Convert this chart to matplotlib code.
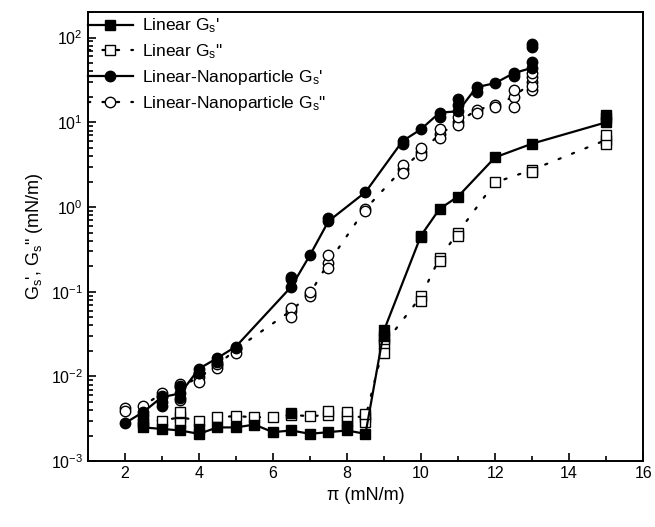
import numpy as np
import matplotlib
matplotlib.use("Agg")
import matplotlib.pyplot as plt
from matplotlib.ticker import MultipleLocator, LogLocator, NullFormatter

plt.rcParams["font.family"] = ["Liberation Sans", "DejaVu Sans"]
plt.rcParams["mathtext.default"] = "regular"

# ---- Linear G' (filled squares, solid) ----
lin_gp_x = [2.5, 3, 3.5, 4, 4.5, 5, 5.5, 6, 6.5, 7, 7.5, 8, 8.5, 9, 10, 10.5, 11, 12, 13, 15]
lin_gp_y = [0.0025, 0.0024, 0.0023, 0.0021, 0.0025, 0.0025, 0.0027, 0.0022, 0.0023, 0.0021,
            0.0022, 0.0023, 0.0021, 0.035, 0.46, 0.95, 1.33, 3.86, 5.6, 10.0]
lin_gp_rep_x = [2.5, 4, 6.5, 8, 9, 10, 15, 15]
lin_gp_rep_y = [0.0028, 0.0024, 0.0037, 0.0026, 0.030, 0.44, 12.3, 11.2]

# ---- Linear G'' (open squares, dotted) ----
lin_gpp_x = [2.5, 3, 3.5, 4, 4.5, 5, 5.5, 6, 6.5, 7, 7.5, 8, 8.5, 9, 10, 10.5, 11, 12, 13, 15]
lin_gpp_y = [0.0030, 0.0030, 0.0033, 0.0030, 0.0033, 0.0034, 0.0033, 0.0033, 0.0035, 0.0034,
             0.0035, 0.0034, 0.0033, 0.024, 0.088, 0.25, 0.50, 1.95, 2.75, 6.2]
lin_gpp_rep_x = [3.5, 3.5, 7.5, 8, 8, 8.5, 8.5, 9, 9, 10, 10.5, 11, 13, 15, 15]
lin_gpp_rep_y = [0.0038, 0.0028, 0.0039, 0.0038, 0.0030, 0.0029, 0.0036, 0.019, 0.028,
                 0.078, 0.23, 0.46, 2.6, 5.6, 7.0]

# ---- Linear-Nanoparticle G' (filled circles, solid) ----
np_gp_x = [2, 2.5, 3, 3.5, 4, 4.5, 5, 6.5, 7, 7.5, 8.5, 9.5, 10, 10.5, 11, 11.5, 12, 12.5, 13]
np_gp_y = [0.0028, 0.0038, 0.0057, 0.0063, 0.0123, 0.0165, 0.0225, 0.115, 0.27, 0.68,
           1.5, 6.0, 8.3, 13.0, 13.5, 26.0, 29.0, 38.0, 44.0]
np_gp_rep_x = [2.5, 3, 3, 3.5, 3.5, 4, 4.5, 6.5, 6.5, 7.5, 9.5, 10.5, 11, 11, 11.5, 12.5, 13, 13, 13]
np_gp_rep_y = [0.0035, 0.0045, 0.0050, 0.0078, 0.0055, 0.011, 0.015, 0.15, 0.14, 0.75,
               5.5, 11.5, 16.0, 19.0, 23.0, 35.0, 52.0, 83.0, 78.0]

# ---- Linear-Nanoparticle G'' (open circles, dotted) ----
np_gpp_x = [2, 2.5, 3, 3.5, 4, 4.5, 5, 6.5, 7, 7.5, 8.5, 9.5, 10, 10.5, 11, 11.5, 12, 12.5, 13]
np_gpp_y = [0.0042, 0.0045, 0.0063, 0.0075, 0.0098, 0.0135, 0.021, 0.060, 0.095, 0.22,
            0.95, 2.8, 4.5, 7.2, 10.0, 14.0, 16.0, 20.0, 30.0]
np_gpp_rep_x = [2, 3, 3.5, 3.5, 4, 4, 4.5, 4.5, 5, 5, 6.5, 6.5, 7, 7, 7.5, 7.5, 8.5, 9.5, 9.5,
                10, 10, 10.5, 10.5, 11, 11, 11.5, 12, 12.5, 12.5, 13, 13, 13, 13]
np_gpp_rep_y = [0.0039, 0.0058, 0.0082, 0.0053, 0.0085, 0.011, 0.0125, 0.014, 0.019, 0.0215,
                0.065, 0.050, 0.090, 0.100, 0.27, 0.19, 0.90, 3.1, 2.5, 4.1, 5.0, 6.5, 8.4,
                9.3, 11.5, 13.0, 15.0, 15.0, 24.0, 24.0, 27.0, 34.0, 38.0]

dotted = (0, (1, 5.5))

fig = plt.figure(figsize=(6.55, 5.27), dpi=100)
ax = fig.add_axes([0.134, 0.125, 0.848, 0.852])

ms = 7
# open markers first so filled ones sit on top
ax.plot(lin_gpp_x, lin_gpp_y, color="black", lw=1.6, ls=dotted, dash_capstyle="round",
        marker="s", ms=ms, mfc="white", mec="black", mew=1.0, label="Linear G$_s$\"")
ax.plot(lin_gpp_rep_x, lin_gpp_rep_y, ls="none", marker="s", ms=ms, mfc="white", mec="black", mew=1.0)
ax.plot(np_gpp_x, np_gpp_y, color="black", lw=1.6, ls=dotted, dash_capstyle="round",
        marker="o", ms=ms + 0.5, mfc="white", mec="black", mew=1.0, label="Linear-Nanoparticle G$_s$\"")
ax.plot(np_gpp_rep_x, np_gpp_rep_y, ls="none", marker="o", ms=ms + 0.5, mfc="white", mec="black", mew=1.0)

ax.plot(lin_gp_x, lin_gp_y, color="black", lw=1.6, marker="s", ms=ms, mfc="black", mec="black",
        label="Linear G$_s$'")
ax.plot(lin_gp_rep_x, lin_gp_rep_y, ls="none", marker="s", ms=ms, color="black")
ax.plot(np_gp_x, np_gp_y, color="black", lw=1.6, marker="o", ms=ms + 0.5, mfc="black", mec="black",
        label="Linear-Nanoparticle G$_s$'")
ax.plot(np_gp_rep_x, np_gp_rep_y, ls="none", marker="o", ms=ms + 0.5, color="black")

ax.set_yscale("log")
ax.set_xlim(1, 16)
ax.set_ylim(1e-3, 200)
ax.xaxis.set_major_locator(MultipleLocator(2))
ax.xaxis.set_minor_locator(MultipleLocator(1))
ax.yaxis.set_major_locator(LogLocator(base=10, numticks=10))
ax.yaxis.set_minor_locator(LogLocator(base=10, subs=np.arange(2, 10), numticks=20))
ax.yaxis.set_minor_formatter(NullFormatter())
ax.tick_params(which="both", direction="in", top=False, right=False, labelsize=11.5, width=1.2)
ax.tick_params(which="major", length=6)
ax.tick_params(which="minor", length=3.5)
for s in ax.spines.values():
    s.set_linewidth(1.4)

ax.set_xlabel("π (mN/m)", fontsize=13)
ax.set_ylabel("G$_s$', G$_s$\" (mN/m)", fontsize=13)

h, l = ax.get_legend_handles_labels()
order = [2, 0, 3, 1]
ax.legend([h[i] for i in order], [l[i] for i in order], loc="upper left",
          bbox_to_anchor=(0.0, 0.99), frameon=False, fontsize=12.5, handlelength=2.6,
          borderaxespad=0.0, borderpad=0.0, labelspacing=0.4, handletextpad=0.5)

fig.savefig("out.png", dpi=100)
